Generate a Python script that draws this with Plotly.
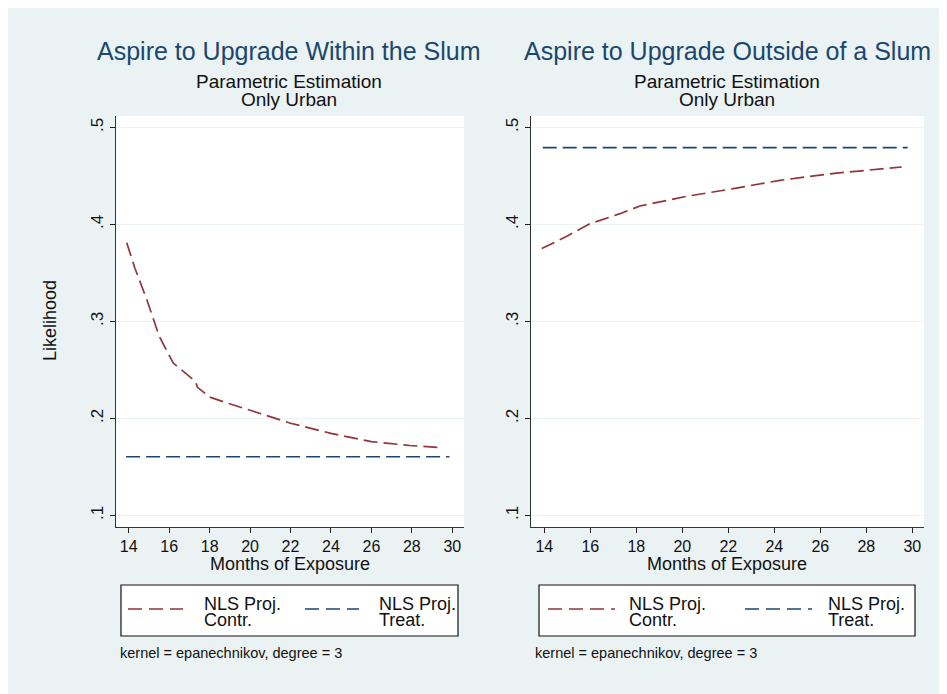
import plotly.graph_objects as go

OFF = 8  # page body margin
W, H = 947 - OFF, 694 - OFF

# ---- data ----
months_ctrl_within = [13.9, 14.3, 14.9, 15.5, 16.2, 16.7, 17.3, 17.4, 18.0, 18.7, 20.0, 22.0, 24.0, 26.0, 27.9, 29.56]
lik_ctrl_within = [0.381, 0.355, 0.322, 0.285, 0.257, 0.248, 0.238, 0.232, 0.222, 0.217, 0.2085, 0.195, 0.1845, 0.176, 0.172, 0.1697]
months_treat_within = [13.87, 29.86]
lik_treat_within = [0.1604, 0.1604]

months_ctrl_outside = [13.89, 15.0, 15.99, 17.29, 18.16, 20.19, 22.22, 24.25, 26.71, 27.87, 29.54]
lik_ctrl_outside = [0.375, 0.388, 0.4007, 0.411, 0.4189, 0.4289, 0.4368, 0.4454, 0.4529, 0.4557, 0.4591]
months_treat_outside = [13.93, 29.8]
lik_treat_outside = [0.479, 0.479]

x_ticks = [14, 16, 18, 20, 22, 24, 26, 28, 30]
y_ticks = [0.1, 0.2, 0.3, 0.4, 0.5]
y_ticklabels = [".1", ".2", ".3", ".4", ".5"]

titles = ["Aspire to Upgrade Within the Slum", "Aspire to Upgrade Outside of a Slum"]
subtitles = ["Parametric Estimation", "Only Urban"]
legend_labels = [["NLS Proj.", "Contr."], ["NLS Proj.", "Treat."]]
note = "kernel = epanechnikov, degree = 3"

RED = "#90353b"
NAVY = "#1a476f"
BG = "#eaf2f3"
FONT = "Liberation Sans, Arial, sans-serif"

def px(x):
    return (x - OFF) / W

def py(y):
    return 1 - (y - OFF) / H

fig = go.Figure()

line_style = dict(width=1.7, dash="14px,6px")
fig.add_trace(go.Scatter(x=months_ctrl_within, y=lik_ctrl_within, mode="lines",
                         line=dict(color=RED, **line_style), xaxis="x", yaxis="y", showlegend=False))
fig.add_trace(go.Scatter(x=months_treat_within, y=lik_treat_within, mode="lines",
                         line=dict(color=NAVY, **line_style), xaxis="x", yaxis="y", showlegend=False))
fig.add_trace(go.Scatter(x=months_ctrl_outside, y=lik_ctrl_outside, mode="lines",
                         line=dict(color=RED, **line_style), xaxis="x2", yaxis="y2", showlegend=False))
fig.add_trace(go.Scatter(x=months_treat_outside, y=lik_treat_outside, mode="lines",
                         line=dict(color=NAVY, **line_style), xaxis="x2", yaxis="y2", showlegend=False))

ydom = [py(527), py(116)]
xaxis_common = dict(tickvals=x_ticks, ticks="outside", ticklen=5, tickcolor="#222",
                    showline=True, linecolor="#333", linewidth=1.2, showgrid=False, zeroline=False,
                    tickfont=dict(family=FONT, size=16, color="#111"), fixedrange=True)
yaxis_common = dict(tickvals=y_ticks, ticktext=y_ticklabels, range=[0.088, 0.5117], tickangle=-90,
                    ticks="outside", ticklen=5, tickcolor="#222", showline=True, linecolor="#333",
                    linewidth=1.2, showgrid=True, gridcolor=BG, gridwidth=1, zeroline=False,
                    tickfont=dict(family=FONT, size=17, color="#111"), fixedrange=True)

fig.update_layout(
    width=W, height=H, margin=dict(l=0, r=0, t=0, b=0),
    paper_bgcolor=BG, plot_bgcolor="white",
    font=dict(family=FONT),
    xaxis=dict(domain=[px(116), px(464)], range=[13.37, 30.58], anchor="y", **xaxis_common),
    yaxis=dict(domain=ydom, anchor="x", **yaxis_common),
    xaxis2=dict(domain=[px(531), px(924)], range=[13.42, 30.51], anchor="y2", **xaxis_common),
    yaxis2=dict(domain=ydom, anchor="x2", **yaxis_common),
    showlegend=False,
)

ann = []
shapes = []
panels = [
    dict(cx=289, tx=titles[0], xt=290, box=(121, 585, 458, 636), s1=(128, 183), t1=202, s2=(305, 359), t2=377, note_x=118),
    dict(cx=727, tx=titles[1], xt=727, box=(539, 585, 915, 636), s1=(548, 615), t1=627, s2=(745, 812), t2=826, note_x=533),
]

def text(x, y, s, size, color="#111", xanchor="center", angle=0):
    ann.append(dict(x=px(x), y=py(y), xref="paper", yref="paper", text=s, showarrow=False,
                    textangle=angle, font=dict(family=FONT, size=size, color=color),
                    xanchor=xanchor, yanchor="middle"))

for p in panels:
    text(p["cx"], 51, p["tx"], 25, NAVY)
    text(p["cx"], 81, subtitles[0], 19)
    text(p["cx"], 100, subtitles[1], 19)
    text(p["xt"], 564, "Months of Exposure", 18)
    x0, y0, x1, y1 = p["box"]
    shapes.append(dict(type="rect", xref="paper", yref="paper", x0=px(x0), x1=px(x1), y0=py(y1), y1=py(y0),
                       fillcolor="white", line=dict(color="#111", width=1.2), layer="below"))
    for (sx, tx, col, lab) in [(p["s1"], p["t1"], RED, legend_labels[0]), (p["s2"], p["t2"], NAVY, legend_labels[1])]:
        shapes.append(dict(type="line", xref="paper", yref="paper", x0=px(sx[0]), x1=px(sx[1]),
                           y0=py(609), y1=py(609), line=dict(color=col, width=1.7, dash="14px,7px")))
        text(tx, 604, lab[0], 18, xanchor="left")
        text(tx, 620, lab[1], 18, xanchor="left")
    text(p["note_x"], 653, note, 14.5, xanchor="left")

text(50, 321, "Likelihood", 18, angle=-90)

fig.update_layout(annotations=ann, shapes=shapes)
fig.write_html("out.html")
